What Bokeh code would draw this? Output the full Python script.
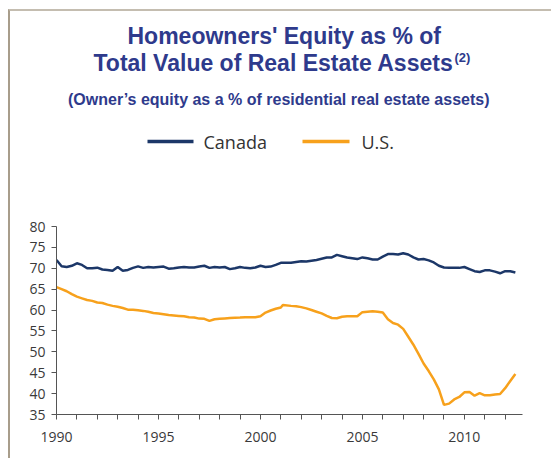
from bokeh.plotting import figure
from bokeh.layouts import column
from bokeh.models import Range1d, FixedTicker
from bokeh.core.properties import value
from bokeh.embed import file_html
from bokeh.resources import INLINE

# ---- data ----
canada_years = [1990.0, 1990.25, 1990.5, 1990.75, 1991.0, 1991.25, 1991.5, 1991.75,
                1992.0, 1992.25, 1992.5, 1992.75, 1993.0, 1993.25, 1993.5, 1993.75,
                1994.0, 1994.25, 1994.5, 1994.75, 1995.0, 1995.25, 1995.5, 1995.75,
                1996.0, 1996.25, 1996.5, 1996.75, 1997.0, 1997.25, 1997.5, 1997.75,
                1998.0, 1998.25, 1998.5, 1998.75, 1999.0, 1999.25, 1999.5, 1999.75,
                2000.0, 2000.25, 2000.5, 2000.75, 2001.0, 2001.25, 2001.5, 2001.75,
                2002.0, 2002.25, 2002.5, 2002.75, 2003.0, 2003.25, 2003.5, 2003.75,
                2004.0, 2004.25, 2004.5, 2004.75, 2005.0, 2005.25, 2005.5, 2005.75,
                2006.0, 2006.25, 2006.5, 2006.75, 2007.0, 2007.25, 2007.5, 2007.75,
                2008.0, 2008.25, 2008.5, 2008.75, 2009.0, 2009.25, 2009.5, 2009.75,
                2010.0, 2010.25, 2010.5, 2010.75, 2011.0, 2011.25, 2011.5, 2011.75,
                2012.0, 2012.25, 2012.5]
canada_values = [72.0, 70.5, 70.3, 70.6, 71.2, 70.8, 70.0, 70.0,
                 70.15, 69.7, 69.6, 69.4, 70.3, 69.4, 69.6, 70.1,
                 70.45, 70.1, 70.3, 70.2, 70.3, 70.4, 69.9, 70.0,
                 70.2, 70.3, 70.2, 70.2, 70.4, 70.6, 70.1, 70.3,
                 70.2, 70.3, 69.8, 70.0, 70.3, 70.1, 70.0, 70.2,
                 70.6, 70.3, 70.4, 70.8, 71.3, 71.3, 71.3, 71.5,
                 71.7, 71.6, 71.8, 72.0, 72.3, 72.6, 72.6, 73.2,
                 72.9, 72.6, 72.4, 72.2, 72.6, 72.4, 72.1, 72.1,
                 72.8, 73.4, 73.4, 73.3, 73.6, 73.3, 72.6, 72.1,
                 72.2, 71.9, 71.4, 70.6, 70.2, 70.1, 70.1, 70.1,
                 70.3, 69.8, 69.3, 69.1, 69.5, 69.5, 69.2, 68.8,
                 69.3, 69.3, 69.0]

us_years = [1990.0, 1990.25, 1990.5, 1990.75, 1991.0, 1991.25, 1991.5, 1991.75,
            1992.0, 1992.25, 1992.5, 1992.75, 1993.0, 1993.25, 1993.5, 1993.75,
            1994.0, 1994.25, 1994.5, 1994.75, 1995.0, 1995.25, 1995.5, 1995.75,
            1996.0, 1996.25, 1996.5, 1996.75, 1997.0, 1997.25, 1997.5, 1997.75,
            1998.0, 1998.25, 1998.5, 1998.75, 1999.0, 1999.25, 1999.5, 1999.75,
            2000.0, 2000.25, 2000.5, 2000.75, 2001.0, 2001.1, 2001.5, 2001.75,
            2002.0, 2002.25, 2002.5, 2002.75, 2003.0, 2003.25, 2003.5, 2003.75,
            2004.0, 2004.25, 2004.5, 2004.75, 2005.0, 2005.25, 2005.5, 2005.75,
            2006.0, 2006.25, 2006.5, 2006.75, 2007.0, 2007.25, 2007.5, 2007.75,
            2008.0, 2008.25, 2008.5, 2008.75, 2009.0, 2009.25, 2009.5, 2009.75,
            2010.0, 2010.25, 2010.5, 2010.75, 2011.0, 2011.25, 2011.5, 2011.75,
            2012.0, 2012.25, 2012.5]
us_values = [65.5, 65.0, 64.5, 63.8, 63.2, 62.8, 62.4, 62.2,
             61.8, 61.7, 61.3, 61.0, 60.8, 60.5, 60.1, 60.1,
             59.95, 59.8, 59.6, 59.3, 59.2, 59.0, 58.8, 58.7,
             58.6, 58.5, 58.3, 58.2, 57.95, 57.9, 57.4, 57.8,
             57.9, 58.0, 58.1, 58.15, 58.2, 58.3, 58.3, 58.3,
             58.5, 59.4, 59.9, 60.3, 60.6, 61.2, 61.0, 60.9,
             60.7, 60.4, 60.0, 59.6, 59.2, 58.6, 58.1, 58.05,
             58.4, 58.5, 58.5, 58.5, 59.5, 59.6, 59.7, 59.6,
             59.4, 57.8, 56.9, 56.5, 55.5, 53.6, 51.7, 49.5,
             47.2, 45.4, 43.4, 41.0, 37.3, 37.6, 38.6, 39.2,
             40.3, 40.4, 39.5, 40.1, 39.6, 39.6, 39.8, 39.9,
             41.3, 43.0, 44.7]

series_names = ["Canada", "U.S."]
x_ticks = [1990, 1991, 1992, 1993, 1994, 1995, 1996, 1997, 1998, 1999, 2000, 2001,
           2002, 2003, 2004, 2005, 2006, 2007, 2008, 2009, 2010, 2011, 2012]
x_labelled = [1990, 1995, 2000, 2005, 2010]
y_ticks = [35, 40, 45, 50, 55, 60, 65, 70, 75, 80]

title_1 = "Homeowners' Equity as % of"
title_2 = "Total Value of Real Estate Assets"
title_note = "(2)"
subtitle = "(Owner\u2019s equity as a % of residential real estate assets)"

# ---- style ----
NAVY = "#1c3768"
ORANGE = "#f7a11c"
TITLE = "#2e3a8c"
AXIS = "#555555"
TXT = "#3a3a3a"
W = 541

# ---- header: titles and key; its frame is aligned with the chart frame,
#      so the ranges are set to page pixel coordinates (y downward) ----
head = figure(width=W, height=200, output_backend="svg", toolbar_location=None,
              x_range=Range1d(56, 522), y_range=Range1d(211, 11),
              x_axis_type=None, y_axis_type=None, min_border=0)
head.outline_line_color = None
head.xgrid.visible = False
head.ygrid.visible = False

tf = value("Liberation Sans")
head.text(x=[127], y=[35.7], text=[title_1], text_font=tf, text_font_style="bold",
          text_font_size="23px", text_color=TITLE, text_align="left", text_baseline="middle")
head.text(x=[93], y=[62.3], text=[title_2], text_font=tf, text_font_style="bold",
          text_font_size="23px", text_color=TITLE, text_align="left", text_baseline="middle")
head.text(x=[454], y=[56.5], text=[title_note], text_font=tf, text_font_style="bold",
          text_font_size="13px", text_color=TITLE, text_align="left", text_baseline="middle")
head.text(x=[67.5], y=[98.5], text=[subtitle], text_font=tf, text_font_style="bold",
          text_font_size="16px", text_color=TITLE, text_align="left", text_baseline="middle")

# key
head.segment(x0=[147, 302], y0=[141, 141], x1=[193, 349], y1=[141, 141],
             line_color=[NAVY, ORANGE], line_width=3.5)
head.text(x=[203, 361], y=[141.5, 141.5], text=series_names, text_font=value("Open Sans"),
          text_font_size="18px", text_color="#333333", text_align="left", text_baseline="middle")

# ---- main chart ----
p = figure(width=W, height=247, output_backend="svg", toolbar_location=None,
           x_range=Range1d(1990, 2012.85), y_range=Range1d(35, 80),
           min_border_left=46, min_border_right=29, min_border_top=15, min_border_bottom=44)
p.outline_line_color = None
p.xgrid.visible = False
p.ygrid.visible = False

p.line(canada_years, canada_values, line_color=NAVY, line_width=2.5, legend_label=series_names[0])
p.line(us_years, us_values, line_color=ORANGE, line_width=2.5, legend_label=series_names[1])
p.legend.visible = False

for ax in (p.xaxis[0], p.yaxis[0]):
    ax.axis_line_color = AXIS
    ax.major_tick_line_color = AXIS
    ax.minor_tick_line_color = None
    ax.major_tick_in = 0
    ax.major_tick_out = 5
    ax.major_label_text_font = "Open Sans"
    ax.major_label_text_font_size = "14px"
    ax.major_label_text_color = TXT

p.xaxis.ticker = FixedTicker(ticks=x_ticks)
p.xaxis.major_label_overrides = {t: (str(t) if t in x_labelled else "") for t in x_ticks}
p.xaxis.major_label_standoff = 12
p.yaxis.ticker = FixedTicker(ticks=y_ticks)
p.yaxis.major_label_standoff = 6

page = column(head, p, spacing=0,
              styles={"margin-left": "8px", "margin-top": "9px",
                      "border-top": "2px solid #c4bdb0", "border-left": "2px solid #a89d8b"})

open("out.html", "w").write(file_html(page, INLINE))
